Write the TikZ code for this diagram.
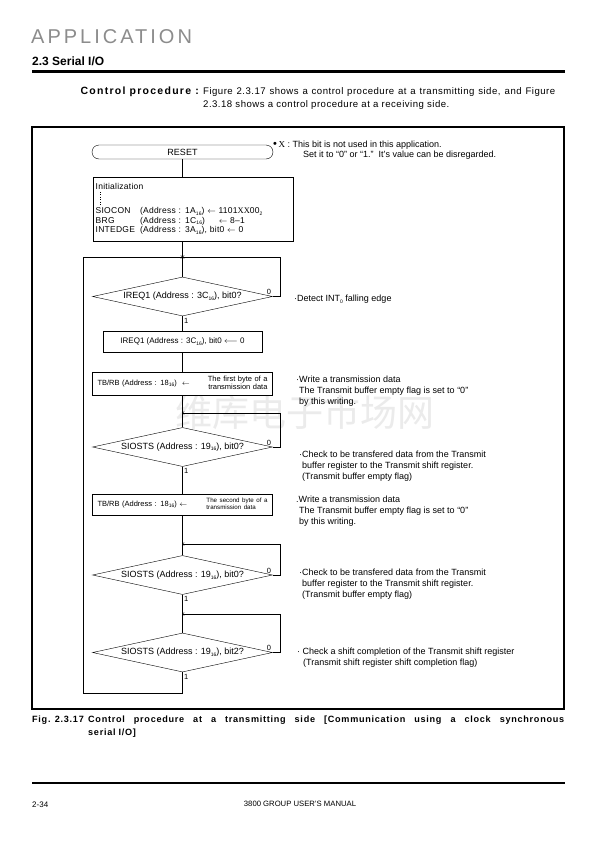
\documentclass[tikz,border=0pt]{standalone}
\usepackage{fontspec}
\setmainfont{Liberation Sans}
\newfontfamily\serifx{Liberation Serif}
\newfontfamily\cjk{Noto Sans CJK SC}
\usetikzlibrary{shapes.geometric, shapes.misc, arrows, positioning}

\newcommand{\hexsub}{\raisebox{-0.35ex}{\fontsize{5}{5}\selectfont 16}}
\newcommand{\chartfont}{\fontsize{9}{9}\selectfont}
\newcommand{\notefont}{\fontsize{9}{10.7}\selectfont}
\newcommand{\capfont}{\fontsize{9.1}{13}\selectfont\bfseries\addfontfeatures{LetterSpace=8}}
\newcommand{\spreadline}[2]{\leavevmode\hbox to #1{\spaceskip=0.25em plus 1fil\relax #2}}

\begin{document}
\begin{tikzpicture}[x=1pt, y=-1pt, font=\chartfont,
    terminal/.style={rounded rectangle, draw, minimum width=181pt, minimum height=14pt, inner sep=0pt},
    procbox/.style={rectangle, draw, minimum height=21pt, inner sep=2.5pt, font=\fontsize{8}{9}\selectfont},
    decision/.style={diamond, draw, aspect=4.6, minimum width=180pt, minimum height=39pt, inner sep=0pt},
    note/.style={anchor=north west, align=left, inner sep=0pt, font=\notefont},
    flag/.style={font=\fontsize{7.5}{8}\selectfont, inner sep=1.5pt}]
    \fill[white] (0,0) rectangle (595,841);
    \useasboundingbox (0,0) rectangle (595,841);

    % page head
    \node[anchor=west, inner sep=0pt, text=black!45, font={\fontsize{20}{21}\selectfont\addfontfeatures{LetterSpace=15}}] (apptitle) at (31,37) {APPLICATION};
    \node[anchor=west, inner sep=0pt, font=\fontsize{12}{13}\selectfont\bfseries] (section) at (32,61) {2.3 Serial I/O};
    \draw[line width=3pt] (32,71) -- (565,71);
    \node[anchor=north east, inner sep=0pt, font={\fontsize{10.5}{13}\selectfont\bfseries\addfontfeatures{LetterSpace=12}}] (ctrlhead) at (199,86.5) {Control procedure :};
    \node[anchor=north west, inner sep=0pt, text width=352pt, align=left, font={\fontsize{9.6}{13}\selectfont\addfontfeatures{LetterSpace=5}}] (ctrltext) at (203,87)
        {\spreadline{352pt}{Figure 2.3.17 shows a control procedure at a transmitting side, and Figure}\\2.3.18 shows a control procedure at a receiving side.};

    % frame and watermark
    \draw[line width=1.4pt] (32,127) rectangle (564,709);
    \node[inner sep=0pt, text=black!8, font=\cjk\fontsize{37}{39}\selectfont] (watermark) at (305,412) {维库电子市场网};

    % flow
    \node[terminal] (reset) at (182.5,152) {RESET};
    \node[procbox, anchor=north west, minimum width=200pt, minimum height=64pt, text width=195pt, align=left, font={\fontsize{8.5}{9.4}\selectfont\addfontfeatures{LetterSpace=3}}] (init) at (93,177)
        {\begin{tabular}{@{}l@{\hspace{5pt}}l@{}}
         \multicolumn{2}{@{}l@{}}{Initialization}\\[15pt]
         SIOCON & (Address : 1A\hexsub) $\leftarrow$ 1101{\serifx XX}00\raisebox{-0.35ex}{\fontsize{5}{5}\selectfont 2}\\
         BRG & (Address : 1C\hexsub)\hspace{14pt}$\leftarrow$ 8--1\\
         INTEDGE & (Address : 3A\hexsub), bit0 $\leftarrow$ 0
         \end{tabular}};
    \draw[dotted] ([xshift=7pt,yshift=-15pt]init.north west) -- ([xshift=7pt,yshift=-28pt]init.north west);

    \coordinate (join1) at (182.5,257);
    \node[decision] (irq) at (182.5,296.5) {IREQ1 (Address : 3C\hexsub), bit0?};
    \node[procbox, minimum width=159pt] (irqclr) at (182.5,341.5) {IREQ1 (Address : 3C\hexsub), bit0 $\longleftarrow$ 0};
    \node[procbox, minimum width=180pt, minimum height=23pt, text width=170pt, align=left, font=\fontsize{7.5}{8}\selectfont] (tbfirst) at (182.5,383.5)
        {TB/RB (Address : 18\hexsub)\ \ $\leftarrow$\hfill\begin{tabular}{@{}r@{}}The first byte of a\\transmission data\end{tabular}};
    \coordinate (join2) at (182.5,413);
    \node[decision] (txflag1) at (182.5,447) {SIOSTS (Address : 19\hexsub), bit0?};
    \node[procbox, minimum width=180pt, text width=170pt, align=left, font=\fontsize{7.5}{8}\selectfont] (tbsecond) at (182.5,504.5)
        {TB/RB (Address : 18\hexsub) $\leftarrow$\hfill{\fontsize{6.2}{7.5}\selectfont\begin{tabular}{@{}l@{}}The second byte of a\\transmission data\end{tabular}}\hspace*{4pt}};
    \coordinate (join3) at (182.5,544);
    \node[decision] (txflag2) at (182.5,575) {SIOSTS (Address : 19\hexsub), bit0?};
    \coordinate (join4) at (182.5,614);
    \node[decision] (shiftflag) at (182.5,652.5) {SIOSTS (Address : 19\hexsub), bit2?};
    \coordinate (loopbot) at (182.5,693);
    \coordinate (loopleft) at (83,693);
    \coordinate (ret1) at (280,257);
    \coordinate (ret2) at (280,413);
    \coordinate (ret3) at (280,544);
    \coordinate (ret4) at (280,614);

    \draw (reset.south) -- (reset.south |- init.north);
    \draw (reset.south |- init.south) -- (join1);
    \draw (join1) -- (irq.north);
    \draw[->] (irq.east) -| node[flag, above left, pos=0] {0} (ret1) -- (join1);
    \draw (irq.south) -- node[flag, below right, pos=0] {1} (irqclr.north);
    \draw (irqclr.south) -- (tbfirst.north);
    \draw (tbfirst.south) -- (txflag1.north);
    \draw[->] (txflag1.east) -| node[flag, above left, pos=0] {0} (ret2) -- (join2);
    \draw (txflag1.south) -- node[flag, below right, pos=0] {1} (tbsecond.north);
    \draw (tbsecond.south) -- (txflag2.north);
    \draw[->] (txflag2.east) -| node[flag, above left, pos=0] {0} (ret3) -- (join3);
    \draw (txflag2.south) -- node[flag, below right, pos=0] {1} (shiftflag.north);
    \draw[->] (shiftflag.east) -| node[flag, above left, pos=0] {0} (ret4) -- (join4);
    \draw[->] (shiftflag.south) -- node[flag, below right, pos=0] {1} (loopbot) -- (loopleft) |- (join1);

    % notes
    \node[note] (xnote) at (273,140.5) {{\fontsize{11}{10.7}\selectfont\textbullet}\,{\serifx X} : This bit is not used in this application.\\\hspace*{30pt}Set it to “0” or “1.”\ \ It's value can be disregarded.};
    \node[note] (detect) at (294,295) {·Detect INT\raisebox{-0.35ex}{\fontsize{5}{5}\selectfont 0} falling edge};
    \node[note] (write1) at (296,376) {·Write a transmission data\\\hspace*{3pt}The Transmit buffer empty flag is set to “0”\\\hspace*{3pt}by this writing.};
    \node[note] (check1) at (299,451) {·Check to be transfered data from the Transmit\\\hspace*{3pt}buffer register to the Transmit shift register.\\\hspace*{3pt}(Transmit buffer empty flag)};
    \node[note] (write2) at (296,496) {.Write a transmission data\\\hspace*{3pt}The Transmit buffer empty flag is set to “0”\\\hspace*{3pt}by this writing.};
    \node[note] (check2) at (299,569) {·Check to be transfered data from the Transmit\\\hspace*{3pt}buffer register to the Transmit shift register.\\\hspace*{3pt}(Transmit buffer empty flag)};
    \node[note] (check3) at (297,648) {· Check a shift completion of the Transmit shift register\\\hspace*{6pt}(Transmit shift register shift completion flag)};

    % caption and foot
    \node[anchor=north west, inner sep=0pt, font=\capfont] (figno) at (32,716) {Fig. 2.3.17};
    \node[anchor=north west, inner sep=0pt, text width=476pt, align=left, font=\capfont] (figcap) at (88,716)
        {\spreadline{476pt}{Control procedure at a transmitting side [Communication using a clock synchronous}\\serial I/O]};
    \draw[line width=1.4pt] (32,783) -- (565,783);
    \node[anchor=west, inner sep=0pt, font=\fontsize{8}{9}\selectfont] (pageno) at (32,805) {2-34};
    \node[inner sep=0pt, font=\fontsize{7.7}{9}\selectfont] (manual) at (300,804) {3800 GROUP USER'S MANUAL};
\end{tikzpicture}
\end{document}
